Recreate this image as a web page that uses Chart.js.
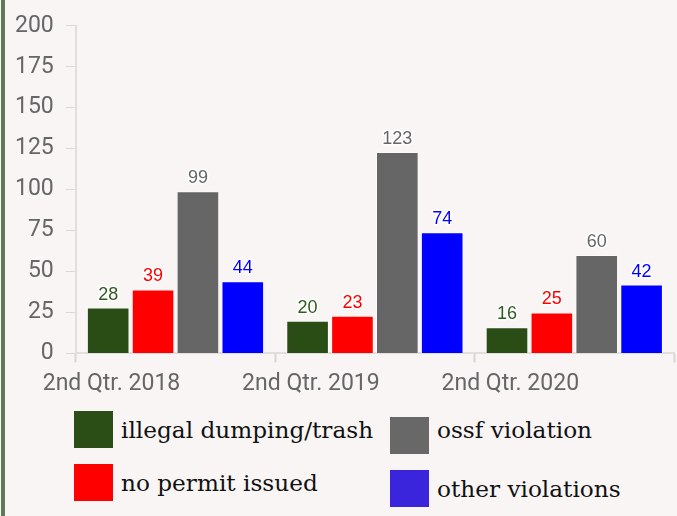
<!DOCTYPE html>
<html>
<head>
<meta charset="utf-8">
<script src="https://cdn.jsdelivr.net/npm/chart.js@4"></script>
<style>
  html, body { margin: 0; padding: 0; background: #f8f5f4; }
  body { width: 677px; height: 516px; position: relative; overflow: hidden; }
  .edge { position: absolute; left: 1px; top: 0; width: 4px; height: 516px; background: #5b7a5c; }
  .chart-wrap { position: absolute; left: 0; top: 0; width: 677px; height: 406px; }
  .legend { position: absolute; left: 74px; top: 411px; font-family: "DejaVu Serif", serif; font-size: 23.2px; color: #111; }
  .legend-col { position: absolute; top: 0; display: flex; flex-direction: column; gap: 16px; }
  .legend-col.second { left: 316px; top: 6px; }
  .legend-col.second .legend-item:first-child .legend-text { position: relative; top: -6px; }
  .legend-item { display: flex; align-items: center; height: 37px; white-space: nowrap; }
  .legend-box { width: 39px; height: 37px; margin-right: 8px; flex: none; }
</style>
</head>
<body>
<div class="edge"></div>
<div class="chart-wrap"><canvas id="chart"></canvas></div>
<div class="legend" id="legend"></div>
<script>
// ---- data ----
const quarters = ['2nd Qtr. 2018', '2nd Qtr. 2019', '2nd Qtr. 2020'];
const seriesNames = ['illegal dumping/trash', 'no permit issued', 'ossf violation', 'other violations'];
const illegalDumping = [28, 20, 16];
const noPermit = [39, 23, 25];
const ossfViolation = [99, 123, 60];
const otherViolations = [44, 74, 42];
const yTicks = [0, 25, 50, 75, 100, 125, 150, 175, 200];

const barColors = ['#2a4d15', '#ff0000', '#666666', '#0000ff'];
const labelColors = ['#2f5a1e', '#ff0000', '#666666', '#0000ff'];
const legendColors = ['#2b4d16', '#ff0000', '#686868', '#3a25dd'];

const seriesValues = [illegalDumping, noPermit, ossfViolation, otherViolations];

// value labels above each bar, with a light halo
const barValueLabels = {
    id: 'barValueLabels',
    afterDatasetsDraw(chart) {
        const ctx = chart.ctx;
        ctx.save();
        ctx.font = '18px "Liberation Sans", Arial, sans-serif';
        ctx.textAlign = 'center';
        ctx.textBaseline = 'bottom';
        ctx.lineJoin = 'round';
        chart.data.datasets.forEach((ds, i) => {
            const meta = chart.getDatasetMeta(i);
            meta.data.forEach((bar, j) => {
                const txt = String(ds.data[j]);
                ctx.strokeStyle = '#ffffff';
                ctx.lineWidth = 3;
                ctx.strokeText(txt, bar.x, bar.y - 4);
                ctx.fillStyle = labelColors[i];
                ctx.fillText(txt, bar.x, bar.y - 4);
            });
        });
        ctx.restore();
    }
};

const ctx = document.getElementById('chart');
new Chart(ctx, {
    type: 'bar',
    data: {
        labels: quarters,
        datasets: seriesNames.map((name, i) => ({
            label: name,
            data: seriesValues[i],
            backgroundColor: barColors[i],
            borderColor: 'rgba(255,255,255,0.55)',
            borderWidth: 1,
            categoryPercentage: 0.9,
            barPercentage: 0.95
        }))
    },
    options: {
        responsive: true,
        maintainAspectRatio: false,
        animation: false,
        layout: { padding: { top: 17, left: 3, right: 3, bottom: 0 } },
        plugins: { legend: { display: false }, tooltip: { enabled: false } },
        scales: {
            x: {
                grid: { drawOnChartArea: false, tickLength: 9, tickColor: '#d8d4d4', tickWidth: 2 },
                border: { color: '#e2dede', width: 2 },
                ticks: {
                    color: '#666',
                    font: { family: 'Roboto', size: 23 },
                    labelOffset: -64,
                    padding: 8,
                    maxRotation: 0
                }
            },
            y: {
                min: 0,
                max: 200,
                afterBuildTicks: (axis) => { axis.ticks = yTicks.map(v => ({ value: v })); },
                grid: { drawOnChartArea: false, tickLength: 10, tickColor: '#dcd8d8', tickWidth: 1 },
                border: { color: '#e2dede', width: 2 },
                ticks: {
                    color: '#666',
                    font: { family: 'Roboto', size: 23 },
                    padding: 12
                }
            }
        }
    },
    plugins: [barValueLabels]
});

// legend in two columns, built from the series arrays
const legendEl = document.getElementById('legend');
const columns = [[0, 1], [2, 3]];
legendEl.innerHTML = columns.map((col, c) => `
    <div class="legend-col ${c === 1 ? 'second' : ''}">
        ${col.map(i => `
            <div class="legend-item">
                <span class="legend-box" style="background:${legendColors[i]}"></span>
                <span class="legend-text">${seriesNames[i]}</span>
            </div>`).join('')}
    </div>`).join('');
</script>
</body>
</html>
